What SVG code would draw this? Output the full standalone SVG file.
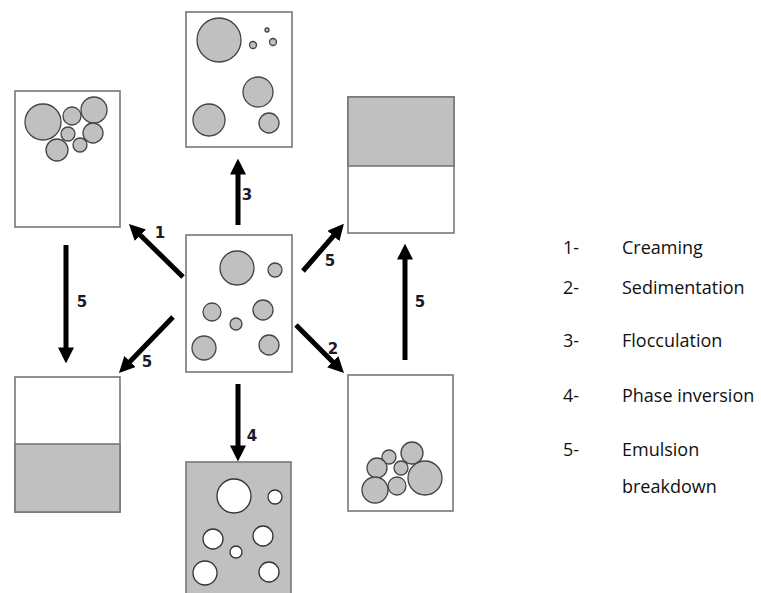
<svg xmlns="http://www.w3.org/2000/svg" width="761" height="593" viewBox="0 0 761 593">
<style>
.box{fill:#fff;stroke:#777;stroke-width:1.6}
.gray{fill:#c0c0c0;stroke:#777;stroke-width:1.6}
.d{fill:#c0c0c0;stroke:#444;stroke-width:1.3}
.w{fill:#fff;stroke:#333;stroke-width:1.3}
.arr{stroke:#000;stroke-width:5;fill:none;marker-end:url(#ah)}
.lbl{font-family:"DejaVu Sans",sans-serif;font-weight:bold;font-size:15px;fill:#1a1a2a;text-anchor:middle}
.leg{font-family:"Open Sans",sans-serif;font-size:18px;fill:#111}
</style>
<defs>
<marker id="ah" markerUnits="userSpaceOnUse" markerWidth="16" markerHeight="16" refX="4" refY="7" orient="auto" viewBox="0 0 14 14">
<path d="M0,0 L14,7 L0,14 z" fill="#000"/>
</marker>
</defs>
<rect width="761" height="593" fill="#fff"/>
<g id="top-flocculation">
<rect class="box" x="186" y="12" width="106" height="135"/>
<circle class="d" cx="219" cy="40" r="22"/>
<circle class="d" cx="267" cy="30" r="2"/>
<circle class="d" cx="253" cy="45" r="3.5"/>
<circle class="d" cx="273" cy="42" r="3.5"/>
<circle class="d" cx="258" cy="92" r="15"/>
<circle class="d" cx="209" cy="120" r="16"/>
<circle class="d" cx="269" cy="123" r="10"/>
</g>
<g id="topleft-creaming">
<rect class="box" x="15" y="91" width="105" height="136"/>
<circle class="d" cx="43" cy="122" r="18"/>
<circle class="d" cx="72" cy="116" r="9"/>
<circle class="d" cx="94" cy="110" r="13"/>
<circle class="d" cx="68" cy="134" r="7"/>
<circle class="d" cx="93" cy="133" r="10"/>
<circle class="d" cx="80" cy="145" r="7"/>
<circle class="d" cx="57" cy="150" r="11"/>
</g>
<g id="topright-breakdown">
<rect class="box" x="348" y="97" width="106" height="136"/>
<rect class="gray" x="348" y="97" width="106" height="69"/>
</g>
<g id="center-emulsion">
<rect class="box" x="186" y="235" width="106" height="137"/>
<circle class="d" cx="237" cy="268" r="17"/>
<circle class="d" cx="275" cy="270" r="7"/>
<circle class="d" cx="212" cy="312" r="9"/>
<circle class="d" cx="263" cy="310" r="10"/>
<circle class="d" cx="236" cy="324" r="6"/>
<circle class="d" cx="204" cy="348" r="12"/>
<circle class="d" cx="269" cy="345" r="10"/>
</g>
<g id="bottomleft-breakdown">
<rect class="box" x="15" y="377" width="105" height="135"/>
<rect class="gray" x="15" y="444" width="105" height="68"/>
</g>
<g id="bottomright-sedimentation">
<rect class="box" x="348" y="375" width="105" height="136"/>
<circle class="d" cx="425" cy="478" r="17"/>
<circle class="d" cx="412" cy="453" r="11"/>
<circle class="d" cx="389" cy="457" r="7"/>
<circle class="d" cx="377" cy="468" r="10"/>
<circle class="d" cx="401" cy="468" r="7"/>
<circle class="d" cx="397" cy="486" r="9"/>
<circle class="d" cx="375" cy="490" r="13"/>
</g>
<g id="bottom-phase-inversion">
<rect class="gray" x="186" y="462" width="105" height="140"/>
<circle class="w" cx="234" cy="496" r="17"/>
<circle class="w" cx="275" cy="497" r="7"/>
<circle class="w" cx="213" cy="539" r="10"/>
<circle class="w" cx="263" cy="536" r="10"/>
<circle class="w" cx="236" cy="552" r="6"/>
<circle class="w" cx="205" cy="573" r="12"/>
<circle class="w" cx="269" cy="572" r="10"/>
</g>
<g id="connectors">
<line class="arr" x1="238" y1="225" x2="238" y2="170"/>
<line class="arr" x1="183" y1="277" x2="137.1" y2="232"/>
<line class="arr" x1="303" y1="271" x2="336.4" y2="232.5"/>
<line class="arr" x1="173" y1="317" x2="126.9" y2="364.8"/>
<line class="arr" x1="296" y1="325" x2="335.9" y2="364.9"/>
<line class="arr" x1="238" y1="384" x2="238" y2="450"/>
<line class="arr" x1="66" y1="245" x2="66" y2="352"/>
<line class="arr" x1="405" y1="360" x2="405" y2="255"/>
<text class="lbl" x="160" y="238">1</text>
<text class="lbl" x="247" y="200">3</text>
<text class="lbl" x="330" y="266">5</text>
<text class="lbl" x="147" y="367">5</text>
<text class="lbl" x="333" y="354">2</text>
<text class="lbl" x="252" y="441">4</text>
<text class="lbl" x="82" y="307">5</text>
<text class="lbl" x="420" y="307">5</text>
</g>
<g id="legend">
<text class="leg" x="563" y="254">1-</text>
<text class="leg" x="622" y="254">Creaming</text>
<text class="leg" x="563" y="294">2-</text>
<text class="leg" x="622" y="294">Sedimentation</text>
<text class="leg" x="563" y="347">3-</text>
<text class="leg" x="622" y="347">Flocculation</text>
<text class="leg" x="563" y="402">4-</text>
<text class="leg" x="622" y="402">Phase inversion</text>
<text class="leg" x="563" y="456">5-</text>
<text class="leg" x="622" y="456">Emulsion</text>
<text class="leg" x="622" y="493">breakdown</text>
</g>
</svg>
